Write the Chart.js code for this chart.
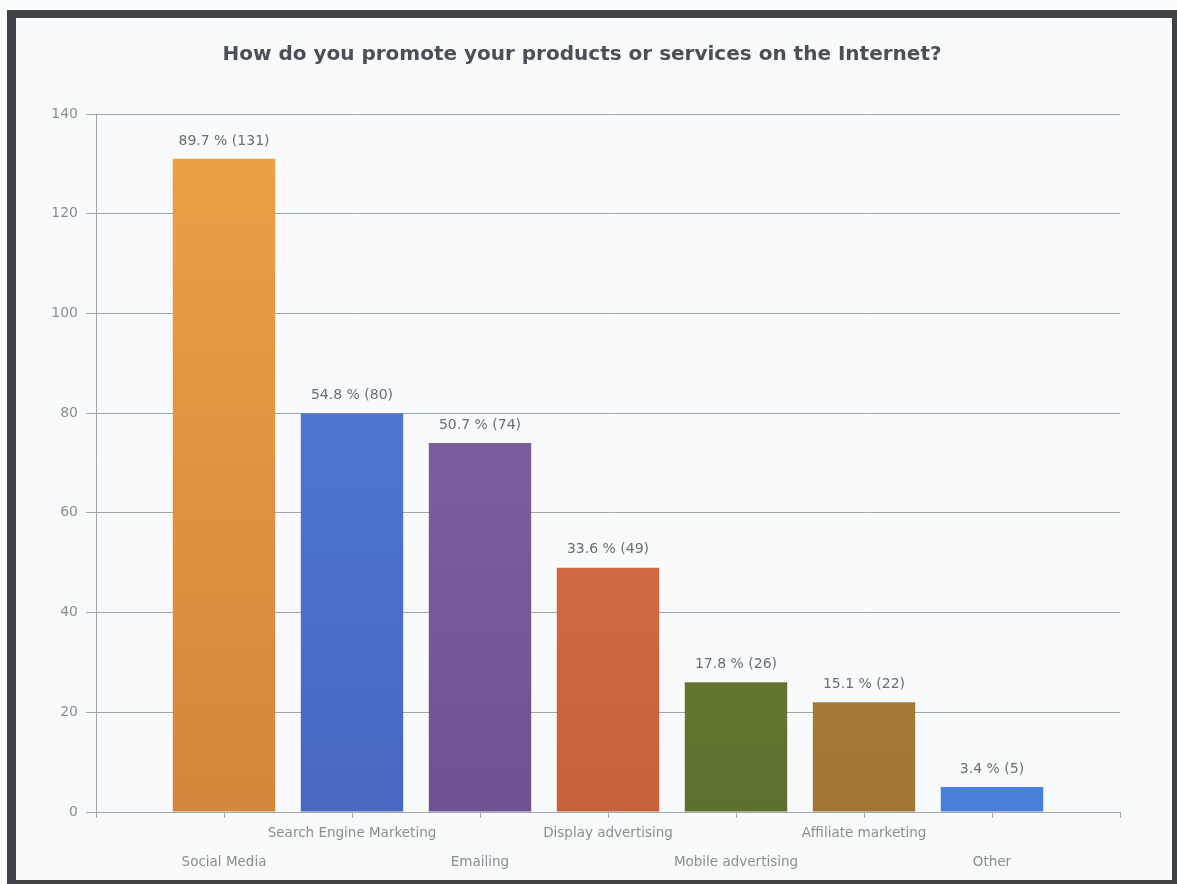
<!DOCTYPE html>
<html>
<head>
<meta charset="utf-8">
<title>Internet promotion survey</title>
<script src="https://cdn.jsdelivr.net/npm/chart.js@4/dist/chart.umd.min.js"></script>
<style>
  html, body { margin: 0; padding: 0; background: #fbfcfc; overflow: hidden; }
  #border {
    position: absolute; left: 7px; top: 10px;
    width: 1170px; height: 874px;
    background: #3f4347;
  }
  #frame {
    position: absolute; left: 16px; top: 18px;
    width: 1156px; height: 862px;
    background: #f8fafb;
  }
  #chartBox { position: absolute; left: 0; top: 0; width: 1130px; height: 862px; }
</style>
</head>
<body>
<div id="border"></div>
<div id="frame">
  <div id="chartBox"><canvas id="promoChart"></canvas></div>
</div>
<script>
// Survey answers (multiple choice), respondents per channel
const categories = ["Social Media", "Search Engine Marketing", "Emailing", "Display advertising",
  "Mobile advertising", "Affiliate marketing", "Other"];
const counts = [131, 80, 74, 49, 26, 22, 5];
const percents = ["89.7", "54.8", "50.7", "33.6", "17.8", "15.1", "3.4"];
const yTicks = [0, 20, 40, 60, 80, 100, 120, 140];

// top / bottom colour of each bar's gradient
const barTop = ["#eba245", "#5382db", "#8569a7", "#de7b4f", "#708838", "#b18b3f", "#4a8ae6"];
const barBottom = ["#d4863c", "#4867c1", "#6f5290", "#c8603c", "#5e702e", "#a07635", "#497fd9"];

// empty slot on each side so the bars sit on ticks 1..7
const labels = ["", ...categories, ""];
const values = [null, ...counts, null];

function barColor(ctx) {
  const i = ctx.dataIndex - 1;
  const area = ctx.chart.chartArea;
  if (i < 0 || i >= categories.length) return "transparent";
  if (!area) return barTop[i];
  const g = ctx.chart.ctx.createLinearGradient(0, area.top, 0, area.bottom);
  g.addColorStop(0, barTop[i]);
  g.addColorStop(1, barBottom[i]);
  return g;
}

// "xx.x % (n)" above every bar
const valueLabels = {
  id: "valueLabels",
  afterDatasetsDraw(chart) {
    const ctx = chart.ctx;
    const meta = chart.getDatasetMeta(0);
    ctx.save();
    ctx.font = "14px 'DejaVu Sans'";
    ctx.fillStyle = "#6a6d73";
    ctx.textAlign = "center";
    ctx.textBaseline = "middle";
    meta.data.forEach((bar, idx) => {
      const i = idx - 1;
      if (i < 0 || i >= categories.length) return;
      ctx.fillText(percents[i] + " % (" + counts[i] + ")", bar.x, bar.y - 18);
    });
    ctx.restore();
  }
};

const axisGray = "#a2a6b1";

new Chart(document.getElementById("promoChart"), {
  type: "bar",
  data: {
    labels: labels,
    datasets: [{
      data: values,
      backgroundColor: barColor,
      borderWidth: 0,
      categoryPercentage: 1,
      barPercentage: 0.8
    }]
  },
  options: {
    responsive: true,
    maintainAspectRatio: false,
    animation: false,
    layout: { padding: { left: 28, right: 26, top: 0, bottom: 0 } },
    plugins: {
      legend: { display: false },
      tooltip: { enabled: false },
      title: {
        display: true,
        text: "How do you promote your products or services on the Internet?",
        color: "#4b4f58",
        font: { family: "'DejaVu Sans'", size: 20, weight: "bold", lineHeight: 1.2 },
        padding: { top: 25, bottom: 47 }
      }
    },
    scales: {
      x: {
        type: "category",
        offset: false,
        grid: { offset: false, drawOnChartArea: false, drawTicks: true, tickLength: 6, color: axisGray },
        border: { color: axisGray, width: 1 },
        ticks: {
          autoSkip: false,
          maxRotation: 0,
          minRotation: 0,
          padding: 1,
          color: "#8a8d93",
          font: { family: "'DejaVu Sans'", size: 13.5, lineHeight: "29px" },
          callback: function (value, index) {
            const text = labels[index];
            if (!text) return "";
            return index % 2 === 1 ? ["", text] : text;
          }
        },
        afterFit: (scale) => { scale.height = 68; }
      },
      y: {
        min: yTicks[0],
        max: yTicks[yTicks.length - 1],
        afterBuildTicks: (scale) => { scale.ticks = yTicks.map(v => ({ value: v })); },
        grid: { color: axisGray, tickLength: 10, lineWidth: 1 },
        border: { color: axisGray, width: 1 },
        ticks: {
          padding: 8,
          color: "#8a8d93",
          font: { family: "'DejaVu Sans'", size: 14 }
        },
        afterFit: (scale) => { scale.width = 52; }
      }
    }
  },
  plugins: [valueLabels]
});
</script>
</body>
</html>
